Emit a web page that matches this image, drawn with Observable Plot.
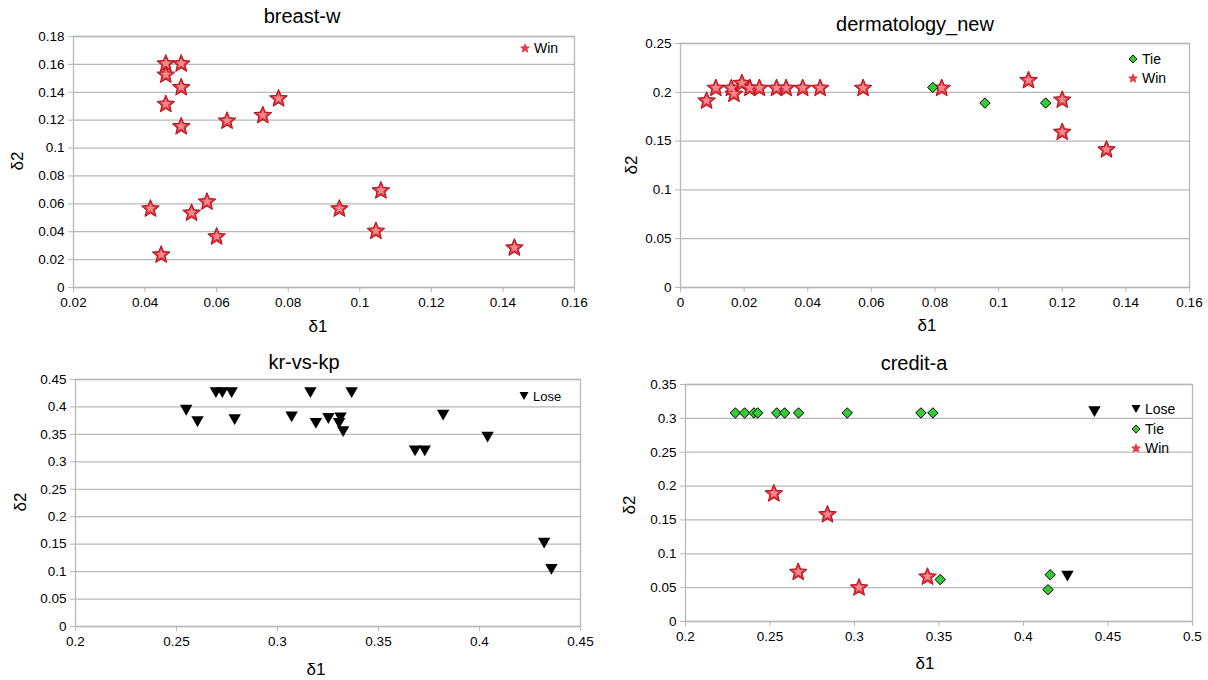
<!DOCTYPE html>
<html><head><meta charset="utf-8">
<script src="https://cdn.jsdelivr.net/npm/d3@7"></script>
<script src="https://cdn.jsdelivr.net/npm/@observablehq/plot@0.6"></script>
<style>
body{margin:0;background:#fff;}
#chart{position:relative;width:1208px;height:680px;overflow:hidden;font-family:"Liberation Sans",Arial,sans-serif;color:#000;}
.lbl{position:absolute;transform:translate(-50%,-50%);white-space:nowrap;line-height:1;}
.rot{transform:translate(-50%,-50%) rotate(-90deg);}
.leg{position:absolute;white-space:nowrap;line-height:1;display:flex;align-items:center;}
.leg svg{overflow:visible;margin-right:4px;}
</style></head><body><div id="chart"></div><script>
// ---------- data ----------
const breastWin_d1 = [0.0458, 0.0501, 0.0458, 0.0501, 0.0458, 0.0501, 0.0629, 0.0729, 0.0773, 0.0415, 0.0445, 0.0530, 0.0573, 0.0600, 0.0943, 0.1059, 0.1045, 0.1432];
const breastWin_d2 = [0.161, 0.161, 0.153, 0.144, 0.132, 0.116, 0.120, 0.124, 0.136, 0.057, 0.024, 0.054, 0.062, 0.037, 0.057, 0.070, 0.041, 0.029];

const dermTie_d1 = [0.0793, 0.0957, 0.1148];
const dermTie_d2 = [0.205, 0.189, 0.189];
const dermWin_d1 = [0.0082, 0.0111, 0.0160, 0.0168, 0.0193, 0.0218, 0.0248, 0.0302, 0.0332, 0.0384, 0.0439, 0.0574, 0.0821, 0.1094, 0.1200, 0.1200, 0.1339];
const dermWin_d2 = [0.192, 0.205, 0.205, 0.199, 0.210, 0.205, 0.205, 0.205, 0.205, 0.205, 0.205, 0.205, 0.205, 0.213, 0.193, 0.160, 0.142];

const krLose_d1 = [0.2548, 0.2604, 0.2695, 0.2727, 0.2773, 0.2788, 0.3070, 0.3163, 0.3190, 0.3252, 0.3312, 0.3305, 0.3325, 0.3367, 0.3681, 0.3729, 0.3820, 0.4040, 0.4320, 0.4356];
const krLose_d2 = [0.394, 0.373, 0.426, 0.426, 0.426, 0.377, 0.382, 0.426, 0.370, 0.379, 0.380, 0.370, 0.355, 0.426, 0.320, 0.320, 0.385, 0.345, 0.152, 0.104];

const creditLose_d1 = [0.442, 0.426];
const creditLose_d2 = [0.310, 0.067];
const creditTie_d1 = [0.2295, 0.2350, 0.2405, 0.2427, 0.2540, 0.2587, 0.2669, 0.2957, 0.3393, 0.3464, 0.3507, 0.4158, 0.4145];
const creditTie_d2 = [0.308, 0.308, 0.308, 0.308, 0.308, 0.308, 0.308, 0.308, 0.308, 0.308, 0.062, 0.069, 0.047];
const creditWin_d1 = [0.2523, 0.2840, 0.2667, 0.3027, 0.3432];
const creditWin_d2 = [0.190, 0.159, 0.074, 0.051, 0.067];

// tick labels
const breastXTicks = [0.02, 0.04, 0.06, 0.08, 0.1, 0.12, 0.14, 0.16];
const breastYTicks = [0, 0.02, 0.04, 0.06, 0.08, 0.1, 0.12, 0.14, 0.16, 0.18];
const dermXTicks = [0, 0.02, 0.04, 0.06, 0.08, 0.1, 0.12, 0.14, 0.16];
const dermYTicks = [0, 0.05, 0.1, 0.15, 0.2, 0.25];
const krXTicks = [0.2, 0.25, 0.3, 0.35, 0.4, 0.45];
const krYTicks = [0, 0.05, 0.1, 0.15, 0.2, 0.25, 0.3, 0.35, 0.4, 0.45];
const creditXTicks = [0.2, 0.25, 0.3, 0.35, 0.4, 0.45, 0.5];
const creditYTicks = [0, 0.05, 0.1, 0.15, 0.2, 0.25, 0.3, 0.35];

const titles = ["breast-w", "dermatology_new", "kr-vs-kp", "credit-a"];
const xTitle = "δ1", yTitle = "δ2";

// ---------- symbols ----------
const rad = s => Math.sqrt(s / Math.PI);
const starSym = {draw(ctx, size){
  const R = rad(size), r = R * 0.45, off = 0.095 * R;
  for (let i = 0; i < 10; i++) {
    const a = -Math.PI / 2 + i * Math.PI / 5, rr = i % 2 ? r : R;
    const x = rr * Math.cos(a), y = rr * Math.sin(a) + off;
    i ? ctx.lineTo(x, y) : ctx.moveTo(x, y);
  }
  ctx.closePath();
}};
const diamondSym = {draw(ctx, size){
  const R = rad(size);
  ctx.moveTo(0, -R); ctx.lineTo(R, 0); ctx.lineTo(0, R); ctx.lineTo(-R, 0); ctx.closePath();
}};
const triSym = {draw(ctx, size){
  const R = rad(size), h = 0.875 * R;
  ctx.moveTo(-R, -h); ctx.lineTo(R, -h); ctx.lineTo(0, h); ctx.closePath();
}};

const STYLE = {
  win: d => [
    Plot.dot(d, {x: "x", y: "y", symbol: starSym, r: 9.3, fill: "#e0343d", stroke: "#b0101a", strokeWidth: 1}),
    Plot.dot(d, {x: "x", y: "y", symbol: starSym, r: 5.2, fill: "#f48a90"})
  ],
  tie: d => [Plot.dot(d, {x: "x", y: "y", symbol: diamondSym, r: 5.2, fill: "#33cc33", stroke: "#000", strokeWidth: 1})],
  lose: d => [Plot.dot(d, {x: "x", y: "y", symbol: triSym, r: 6.2, fill: "#000"})]
};

const W = 1208, H = 680;
const GRID = "#b8b8b8";
const fmt = d => String(+d.toFixed(3));
const chart = document.getElementById("chart");

function rows(a, b){ return d3.zip(a, b).map(([x, y]) => ({x, y})); }

function panel(cfg){
  const {L, R, T, B} = cfg.frame;
  const svg = Plot.plot({
    width: W, height: H,
    marginLeft: L, marginRight: W - R, marginTop: T, marginBottom: H - B,
    x: {domain: [cfg.xTicks[0], cfg.xTicks[cfg.xTicks.length - 1]], label: null},
    y: {domain: [cfg.yTicks[0], cfg.yTicks[cfg.yTicks.length - 1]], label: null},
    style: {position: "absolute", left: "0px", top: "0px", background: "transparent", overflow: "visible",
            fontFamily: "Liberation Sans, Arial, sans-serif", fontSize: "13.5px", color: "#000"},
    marks: [
      Plot.gridY(cfg.yTicks, {stroke: GRID, strokeOpacity: 1, strokeWidth: 1.3}),
      Plot.frame({stroke: GRID, strokeWidth: 1.3}),
      Plot.axisX(cfg.xTicks, {tickFormat: fmt, tickSize: 5, tickPadding: 5, stroke: GRID, strokeOpacity: 1, fill: "#000", label: null}),
      Plot.axisY(cfg.yTicks, {tickFormat: fmt, tickSize: 5, tickPadding: 4, stroke: GRID, strokeOpacity: 1, fill: "#000", label: null}),
      ...cfg.series.flatMap(s => STYLE[s.kind](s.data))
    ]
  });
  chart.appendChild(svg);
  addText(cfg.title, cfg.titlePos, 20);
  addText(xTitle, cfg.xLabPos, 17);
  addText(yTitle, cfg.yLabPos, 17, true);
  addLegend(cfg.legend);
}

function addText(t, [x, y], size, rot){
  const d = document.createElement("div");
  d.className = "lbl" + (rot ? " rot" : "");
  d.style.left = x + "px"; d.style.top = y + "px"; d.style.fontSize = size + "px";
  d.textContent = t;
  chart.appendChild(d);
}

function legendSymbol(kind){
  const ns = "http://www.w3.org/2000/svg";
  const s = document.createElementNS(ns, "svg");
  s.setAttribute("width", 10); s.setAttribute("height", 10); s.setAttribute("viewBox", "-5 -5 10 10");
  const p = document.createElementNS(ns, "path");
  const path = d3.path();
  if (kind === "win") { starSym.draw(path, Math.PI * 4.6 * 4.6); p.setAttribute("fill", "#ee3c46"); p.setAttribute("stroke", "#d8202a"); p.setAttribute("stroke-width", "0.6"); }
  if (kind === "tie") { diamondSym.draw(path, Math.PI * 4 * 4); p.setAttribute("fill", "#33cc33"); p.setAttribute("stroke", "#000"); p.setAttribute("stroke-width", "1"); }
  if (kind === "lose") { triSym.draw(path, Math.PI * 4.5 * 4.5); p.setAttribute("fill", "#000"); }
  p.setAttribute("d", path.toString());
  s.appendChild(p);
  return s;
}

function addLegend({x, y, dy, size, items}){
  items.forEach((it, i) => {
    const d = document.createElement("div");
    d.className = "leg";
    d.style.left = (x - 5) + "px"; d.style.top = (y + i * dy - 7) + "px"; d.style.height = "14px";
    d.style.fontSize = size + "px";
    d.appendChild(legendSymbol(it.kind));
    const t = document.createElement("span"); t.textContent = it.label; d.appendChild(t);
    chart.appendChild(d);
  });
}

panel({
  title: titles[0], titlePos: [302, 16], xLabPos: [318, 326], yLabPos: [17, 161],
  frame: {L: 73, R: 574, T: 36, B: 287}, xTicks: breastXTicks, yTicks: breastYTicks,
  series: [{kind: "win", data: rows(breastWin_d1, breastWin_d2)}],
  legend: {x: 525, y: 48, dy: 19, size: 14, items: [{kind: "win", label: "Win"}]}
});
panel({
  title: titles[1], titlePos: [915, 24], xLabPos: [927, 325], yLabPos: [631, 165],
  frame: {L: 680, R: 1189, T: 43, B: 287}, xTicks: dermXTicks, yTicks: dermYTicks,
  series: [{kind: "win", data: rows(dermWin_d1, dermWin_d2)}, {kind: "tie", data: rows(dermTie_d1, dermTie_d2)}],
  legend: {x: 1133, y: 59, dy: 19, size: 14, items: [{kind: "tie", label: "Tie"}, {kind: "win", label: "Win"}]}
});
panel({
  title: titles[2], titlePos: [304, 362], xLabPos: [316, 669], yLabPos: [20, 502],
  frame: {L: 75, R: 580, T: 379, B: 626}, xTicks: krXTicks, yTicks: krYTicks,
  series: [{kind: "lose", data: rows(krLose_d1, krLose_d2)}],
  legend: {x: 524, y: 396, dy: 19, size: 13, items: [{kind: "lose", label: "Lose"}]}
});
panel({
  title: titles[3], titlePos: [914, 363], xLabPos: [925, 663], yLabPos: [629, 505],
  frame: {L: 685, R: 1192, T: 384, B: 621}, xTicks: creditXTicks, yTicks: creditYTicks,
  series: [{kind: "win", data: rows(creditWin_d1, creditWin_d2)}, {kind: "tie", data: rows(creditTie_d1, creditTie_d2)}, {kind: "lose", data: rows(creditLose_d1, creditLose_d2)}],
  legend: {x: 1136, y: 409, dy: 19.5, size: 14, items: [{kind: "lose", label: "Lose"}, {kind: "tie", label: "Tie"}, {kind: "win", label: "Win"}]}
});
</script></body></html>
